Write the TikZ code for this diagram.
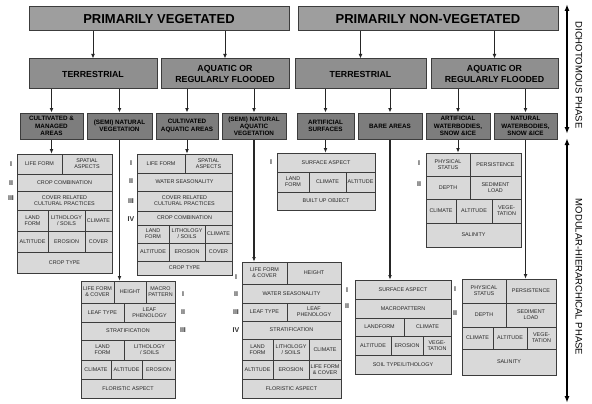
\documentclass[tikz,border=0pt]{standalone}
\usepackage{fontspec}
\setmainfont{Liberation Sans}
\usepackage{tikz}
\usetikzlibrary{arrows.meta,positioning}
\definecolor{lvlone}{HTML}{9E9E9E}
\definecolor{lvltwo}{HTML}{8F8F8F}
\definecolor{lvlthree}{HTML}{7D7D7D}
\definecolor{cellgray}{HTML}{D9D9D9}
\definecolor{boxedge}{HTML}{3C3C3C}
% box from corner (x1,y1) to corner (x2,y2)
\newcommand{\boxat}[7][cell]{%
  \node[#1, minimum width={(#5-#3)*1pt}, minimum height={(#6-#4)*1pt}]
    (#2) at ({(#3+#5)/2},{(#4+#6)/2}) {#7};}

\begin{document}
\begin{tikzpicture}[x=1pt,y=-1pt,
  topbox/.style={draw=boxedge,line width=1pt,fill=lvlone,inner sep=0pt,align=center,
    font=\bfseries\fontsize{13}{15}\selectfont},
  midbox/.style={draw=boxedge,line width=1pt,fill=lvltwo,inner sep=0pt,align=center,
    font=\bfseries\fontsize{8.8}{10.5}\selectfont},
  lowbox/.style={draw=boxedge,line width=1pt,fill=lvlthree,inner sep=0pt,align=center,
    font=\bfseries\fontsize{6.3}{7.2}\selectfont},
  cell/.style={draw=boxedge,line width=0.7pt,fill=cellgray,inner sep=0pt,align=center,
    text=black!85,font=\fontsize{5.4}{6.1}\selectfont},
  numeral/.style={font=\bfseries\fontsize{7}{8}\selectfont,text=black!80},
  arr/.style={draw=black!85,line width=1pt,-{Latex[length=4.5pt,width=3.8pt]}},
  phasearr/.style={line width=1.8pt,{Latex[length=7pt,width=5pt]}-{Latex[length=7pt,width=5pt]}},
  phase/.style={rotate=-90,font=\fontsize{9.5}{11}\selectfont}]
  \useasboundingbox[fill=white] (0,0) rectangle (592,404);

  % dichotomous phase
  \boxat[topbox]{pv}{29}{7}{289}{31}{PRIMARILY VEGETATED}
  \boxat[topbox]{pnv}{298}{7}{558}{31}{PRIMARILY NON-VEGETATED}
  \boxat[midbox]{tv}{29}{59}{157}{89}{TERRESTRIAL}
  \boxat[midbox]{av}{161}{59}{289}{89}{AQUATIC OR\\REGULARLY FLOODED}
  \boxat[midbox]{tn}{295}{59}{426}{89}{TERRESTRIAL}
  \boxat[midbox]{an}{431}{59}{558}{89}{AQUATIC OR\\REGULARLY FLOODED}
  \boxat[lowbox]{cm}{20}{113}{83}{139}{CULTIVATED \&\\MANAGED\\AREAS}
  \boxat[lowbox]{nv}{87}{113}{152}{139}{(SEMI) NATURAL\\VEGETATION}
  \boxat[lowbox]{ca}{156}{113}{218}{139}{CULTIVATED\\AQUATIC AREAS}
  \boxat[lowbox]{na}{222}{113}{286}{139}{(SEMI) NATURAL\\AQUATIC\\VEGETATION}
  \boxat[lowbox]{arts}{297}{113}{354}{139}{ARTIFICIAL\\SURFACES}
  \boxat[lowbox]{ba}{358}{113}{422}{139}{BARE AREAS}
  \boxat[lowbox]{aw}{426}{113}{490}{139}{ARTIFICIAL\\WATERBODIES,\\SNOW \&ICE}
  \boxat[lowbox]{nw}{494}{113}{557}{139}{NATURAL\\WATERBODIES,\\SNOW \&ICE}

  \draw[arr] (tv.north |- pv.south) -- (tv.north);
  \draw[arr] (av.north |- pv.south) -- (av.north);
  \draw[arr] (tn.north |- pnv.south) -- (tn.north);
  \draw[arr] (an.north |- pnv.south) -- (an.north);
  \draw[arr] (cm.north |- tv.south) -- (cm.north);
  \draw[arr] (nv.north |- tv.south) -- (nv.north);
  \draw[arr] (ca.north |- av.south) -- (ca.north);
  \draw[arr] (na.north |- av.south) -- (na.north);
  \draw[arr] (arts.north |- tn.south) -- (arts.north);
  \draw[arr] (ba.north |- tn.south) -- (ba.north);
  \draw[arr] (aw.north |- an.south) -- (aw.north);
  \draw[arr] (nw.north |- an.south) -- (nw.north);

  % cultivated & managed areas
  \boxat{cmLF}{17}{154}{62}{174}{LIFE FORM}
  \boxat{cmSA}{62}{154}{112}{174}{SPATIAL\\ASPECTS}
  \boxat{cmCC}{17}{174}{112}{191}{CROP COMBINATION}
  \boxat{cmCP}{17}{191}{112}{210}{COVER RELATED\\CULTURAL PRACTICES}
  \boxat{cmLD}{17}{210}{48}{231}{LAND\\FORM}
  \boxat{cmLS}{48}{210}{85}{231}{LITHOLOGY\\/ SOILS}
  \boxat{cmCL}{85}{210}{112}{231}{CLIMATE}
  \boxat{cmAL}{17}{231}{48}{252}{ALTITUDE}
  \boxat{cmER}{48}{231}{85}{252}{EROSION}
  \boxat{cmCO}{85}{231}{112}{252}{COVER}
  \boxat{cmCT}{17}{252}{112}{273}{CROP TYPE}
  \foreach \r/\y [count=\i] in {I/164,II/183,III/198}
    \node[numeral] (cmN\i) at (11,\y) {\r};

  % cultivated aquatic areas
  \boxat{caLF}{137}{154}{185}{173}{LIFE FORM}
  \boxat{caSA}{185}{154}{232}{173}{SPATIAL\\ASPECTS}
  \boxat{caWS}{137}{173}{232}{191}{WATER SEASONALITY}
  \boxat{caCP}{137}{191}{232}{211}{COVER RELATED\\CULTURAL PRACTICES}
  \boxat{caCC}{137}{211}{232}{225}{CROP COMBINATION}
  \boxat{caLD}{137}{225}{169}{243}{LAND\\FORM}
  \boxat{caLS}{169}{225}{205}{243}{LITHOLOGY\\/ SOILS}
  \boxat{caCL}{205}{225}{232}{243}{CLIMATE}
  \boxat{caAL}{137}{243}{169}{261}{ALTITUDE}
  \boxat{caER}{169}{243}{205}{261}{EROSION}
  \boxat{caCO}{205}{243}{232}{261}{COVER}
  \boxat{caCT}{137}{261}{232}{275}{CROP TYPE}
  \foreach \r/\y [count=\i] in {I/163,II/181,III/201,IV/219}
    \node[numeral] (caN\i) at (131,\y) {\r};

  % artificial surfaces
  \boxat{asSF}{277}{153}{375}{172}{SURFACE ASPECT}
  \boxat{asLD}{277}{172}{309}{192}{LAND\\FORM}
  \boxat{asCL}{309}{172}{346}{192}{CLIMATE}
  \boxat{asAL}{346}{172}{375}{192}{ALTITUDE}
  \boxat{asBU}{277}{192}{375}{210}{BUILT UP OBJECT}
  \node[numeral] (asN1) at (271,162) {I};

  % artificial waterbodies
  \boxat{awPS}{426}{153}{470}{176}{PHYSICAL\\STATUS}
  \boxat{awPE}{470}{153}{521}{176}{PERSISTENCE}
  \boxat{awDE}{426}{176}{470}{199}{DEPTH}
  \boxat{awSL}{470}{176}{521}{199}{SEDIMENT\\LOAD}
  \boxat{awCL}{426}{199}{456}{223}{CLIMATE}
  \boxat{awAL}{456}{199}{492}{223}{ALTITUDE}
  \boxat{awVE}{492}{199}{521}{223}{VEGE-\\TATION}
  \boxat{awSA}{426}{223}{521}{247}{SALINITY}
  \foreach \r/\y [count=\i] in {I/163,II/184}
    \node[numeral] (awN\i) at (419,\y) {\r};

  % (semi) natural vegetation
  \boxat{nvLF}{81}{281}{114}{303}{LIFE FORM\\\& COVER}
  \boxat{nvHE}{114}{281}{146}{303}{HEIGHT}
  \boxat{nvMP}{146}{281}{175}{303}{MACRO\\PATTERN}
  \boxat{nvLT}{81}{303}{124}{322}{LEAF TYPE}
  \boxat{nvLP}{124}{303}{175}{322}{LEAF\\PHENOLOGY}
  \boxat{nvST}{81}{322}{175}{340}{STRATIFICATION}
  \boxat{nvLD}{81}{340}{124}{360}{LAND\\FORM}
  \boxat{nvLS}{124}{340}{175}{360}{LITHOLOGY\\/ SOILS}
  \boxat{nvCL}{81}{360}{111}{379}{CLIMATE}
  \boxat{nvAL}{111}{360}{142}{379}{ALTITUDE}
  \boxat{nvER}{142}{360}{175}{379}{EROSION}
  \boxat{nvFA}{81}{379}{175}{398}{FLORISTIC ASPECT}
  \foreach \r/\y [count=\i] in {I/294,II/312,III/330}
    \node[numeral] (nvN\i) at (183,\y) {\r};

  % (semi) natural aquatic vegetation
  \boxat{naLF}{242}{262}{287}{284}{LIFE FORM\\\& COVER}
  \boxat{naHE}{287}{262}{341}{284}{HEIGHT}
  \boxat{naWS}{242}{284}{341}{303}{WATER SEASONALITY}
  \boxat{naLT}{242}{303}{287}{321}{LEAF TYPE}
  \boxat{naLP}{287}{303}{341}{321}{LEAF\\PHENOLOGY}
  \boxat{naST}{242}{321}{341}{339}{STRATIFICATION}
  \boxat{naLD}{242}{339}{273}{360}{LAND\\FORM}
  \boxat{naLS}{273}{339}{309}{360}{LITHOLOGY\\/ SOILS}
  \boxat{naCL}{309}{339}{341}{360}{CLIMATE}
  \boxat{naAL}{242}{360}{273}{379}{ALTITUDE}
  \boxat{naER}{273}{360}{309}{379}{EROSION}
  \boxat{naLC}{309}{360}{341}{379}{LIFE FORM\\\& COVER}
  \boxat{naFA}{242}{379}{341}{398}{FLORISTIC ASPECT}
  \foreach \r/\y [count=\i] in {I/277,II/294,III/312,IV/330}
    \node[numeral] (naN\i) at (236,\y) {\r};

  % bare areas
  \boxat{baSF}{355}{280}{451}{299}{SURFACE ASPECT}
  \boxat{baMP}{355}{299}{451}{318}{MACROPATTERN}
  \boxat{baLD}{355}{318}{404}{336}{LANDFORM}
  \boxat{baCL}{404}{318}{451}{336}{CLIMATE}
  \boxat{baAL}{355}{336}{391}{355}{ALTITUDE}
  \boxat{baER}{391}{336}{423}{355}{EROSION}
  \boxat{baVE}{423}{336}{451}{355}{VEGE-\\TATION}
  \boxat{baST}{355}{355}{451}{374}{SOIL TYPE/LITHOLOGY}
  \foreach \r/\y [count=\i] in {I/290,II/306}
    \node[numeral] (baN\i) at (347,\y) {\r};

  % natural waterbodies
  \boxat{nwPS}{462}{279}{506}{303}{PHYSICAL\\STATUS}
  \boxat{nwPE}{506}{279}{556}{303}{PERSISTENCE}
  \boxat{nwDE}{462}{303}{506}{327}{DEPTH}
  \boxat{nwSL}{506}{303}{556}{327}{SEDIMENT\\LOAD}
  \boxat{nwCL}{462}{327}{493}{349}{CLIMATE}
  \boxat{nwAL}{493}{327}{527}{349}{ALTITUDE}
  \boxat{nwVE}{527}{327}{556}{349}{VEGE-\\TATION}
  \boxat{nwSA}{462}{349}{556}{375}{SALINITY}
  \foreach \r/\y [count=\i] in {I/289,II/313}
    \node[numeral] (nwN\i) at (455,\y) {\r};

  % into the modules
  \draw[arr] (cm.south) -- (cm.south |- cmLF.north);
  \draw[arr,line width=1.3pt] (nv.south) -- (nv.south |- nvHE.north);
  \draw[arr] (ca.south) -- (ca.south |- caSA.north);
  \draw[arr,line width=1.3pt] (na.south) -- (na.south |- naLF.north);
  \draw[arr] (arts.south) -- (arts.south |- asSF.north);
  \draw[arr,line width=1.3pt] (ba.south) -- (ba.south |- baSF.north);
  \draw[arr] (aw.south) -- (aw.south |- awPS.north);
  \draw[arr,line width=1.3pt] (nw.south) -- (nw.south |- nwPE.north);

  % phases
  \coordinate (dtop) at (567,4);
  \coordinate (dbot) at (567,134);
  \coordinate (mtop) at (567,138);
  \coordinate (mbot) at (567,403);
  \draw[phasearr] (dtop) -- (dbot);
  \draw[phasearr] (mtop) -- (mbot);
  \node[phase] (dtext) at (579,75) {DICHOTOMOUS PHASE};
  \node[phase] (mtext) at (579,277) {MODULAR-HIERARCHICAL PHASE};
\end{tikzpicture}
\end{document}
